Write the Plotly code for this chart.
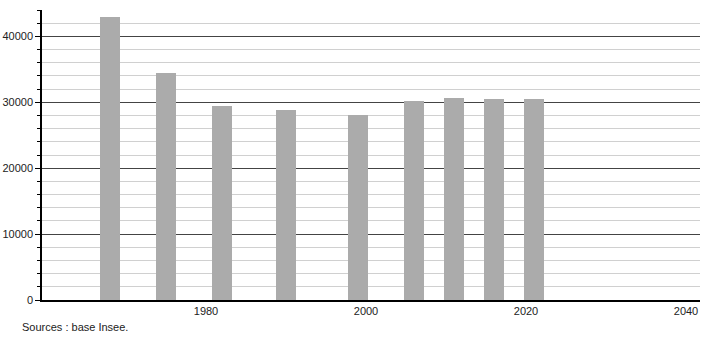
import plotly.graph_objects as go

years = [1968, 1975, 1982, 1990, 1999, 2006, 2011, 2016, 2021]
population = [42900, 34400, 29450, 28850, 28000, 30250, 30600, 30450, 30450]
x_tickvals = [1980, 2000, 2020, 2040]
y_tickvals = [0, 10000, 20000, 30000, 40000]

fig = go.Figure()
fig.add_trace(go.Bar(
    x=years, y=population, width=2.6,
    marker=dict(color="#ababab", line=dict(width=0)),
    hoverinfo="x+y",
))

fig.update_layout(
    width=710, height=340,
    margin=dict(l=42, r=10, t=10, b=40),
    paper_bgcolor="white", plot_bgcolor="white",
    showlegend=False,
    font=dict(family="Liberation Sans, Arial, sans-serif", size=11, color="#222"),
    bargap=0,
)
fig.update_xaxes(
    range=[1959.5, 2041.75], automargin=False,
    tickvals=x_tickvals, ticktext=[str(v) for v in x_tickvals],
    showgrid=False, zeroline=False,
    showline=True, linecolor="black", linewidth=1.5,
    ticks="", ticklen=0,
)
fig.update_yaxes(
    range=[0, 44000], automargin=False,
    tickvals=y_tickvals, ticktext=[str(v) for v in y_tickvals],
    showgrid=True, gridcolor="#444", gridwidth=1,
    zeroline=False,
    showline=True, linecolor="black", linewidth=1.5,
    ticks="outside", ticklen=5, tickcolor="black",
    minor=dict(dtick=2000, showgrid=True, gridcolor="#d0d0d0", gridwidth=1,
               ticks="outside", ticklen=3, tickcolor="black"),
)
fig.add_annotation(
    text="Sources : base Insee.", xref="paper", yref="paper",
    x=-22/658, y=-27/290, xanchor="left", yanchor="middle",
    showarrow=False, font=dict(size=11, color="#222"),
)
fig.write_html("out.html")
